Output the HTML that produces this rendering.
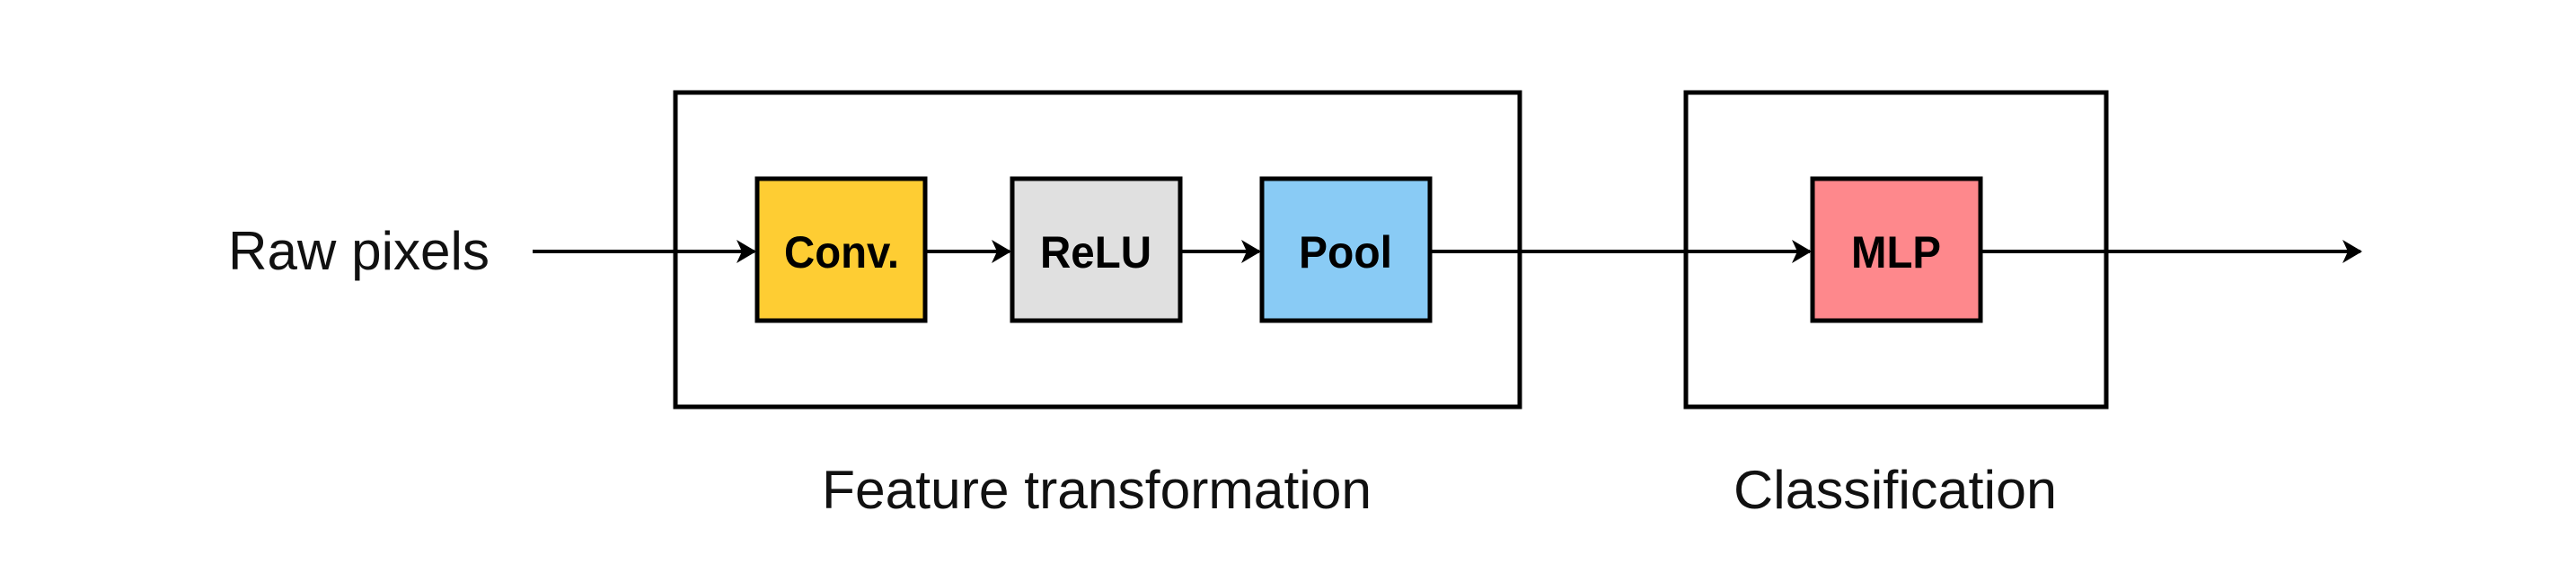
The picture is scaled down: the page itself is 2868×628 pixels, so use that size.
<!DOCTYPE html>
<html><head><meta charset="utf-8"><style>html,body{margin:0;padding:0;background:#fff}svg{display:block}</style></head>
<body>
<svg width="2868" height="628" viewBox="0 0 2868 628" xmlns="http://www.w3.org/2000/svg">
<defs>
<marker id="ah" markerWidth="22" markerHeight="26" refX="20" refY="13" orient="auto" markerUnits="userSpaceOnUse">
<path d="M0,0 L22,13 L0,26 L6,13 Z" fill="#000"/>
</marker>
</defs>
<g fill="none" stroke="#000" stroke-width="5">
<rect x="752" y="103" width="940" height="350"/>
<rect x="1877" y="103" width="468" height="350"/>
</g>
<g stroke="#000" stroke-width="5">
<rect x="843" y="199" width="187" height="158" fill="#FECD33"/>
<rect x="1127" y="199" width="187" height="158" fill="#E0E0E0"/>
<rect x="1405" y="199" width="187" height="158" fill="#89CBF5"/>
<rect x="2018" y="199" width="187" height="158" fill="#FE888C"/>
</g>
<g stroke="#000" stroke-width="4" marker-end="url(#ah)">
<line x1="593" y1="280" x2="840" y2="280"/>
<line x1="1032" y1="280" x2="1124" y2="280"/>
<line x1="1316" y1="280" x2="1402" y2="280"/>
<line x1="1594" y1="280" x2="2015" y2="280"/>
<line x1="2207" y1="280" x2="2628" y2="280"/>
</g>
<g font-family="Liberation Sans, sans-serif" font-weight="bold" font-size="50" text-anchor="middle" fill="#000">
<text x="937" y="298" textLength="128" lengthAdjust="spacingAndGlyphs">Conv.</text>
<text x="1220" y="298" textLength="124" lengthAdjust="spacingAndGlyphs">ReLU</text>
<text x="1498" y="298" textLength="104" lengthAdjust="spacingAndGlyphs">Pool</text>
<text x="2111" y="298" textLength="100" lengthAdjust="spacingAndGlyphs">MLP</text>
</g>
<g font-family="Liberation Sans, sans-serif" font-size="60" fill="#111">
<text x="254" y="300" textLength="291" lengthAdjust="spacingAndGlyphs">Raw pixels</text>
<text x="915" y="566" textLength="612" lengthAdjust="spacingAndGlyphs">Feature transformation</text>
<text x="1930" y="566" textLength="360" lengthAdjust="spacingAndGlyphs">Classification</text>
</g>
</svg>
</body></html>
